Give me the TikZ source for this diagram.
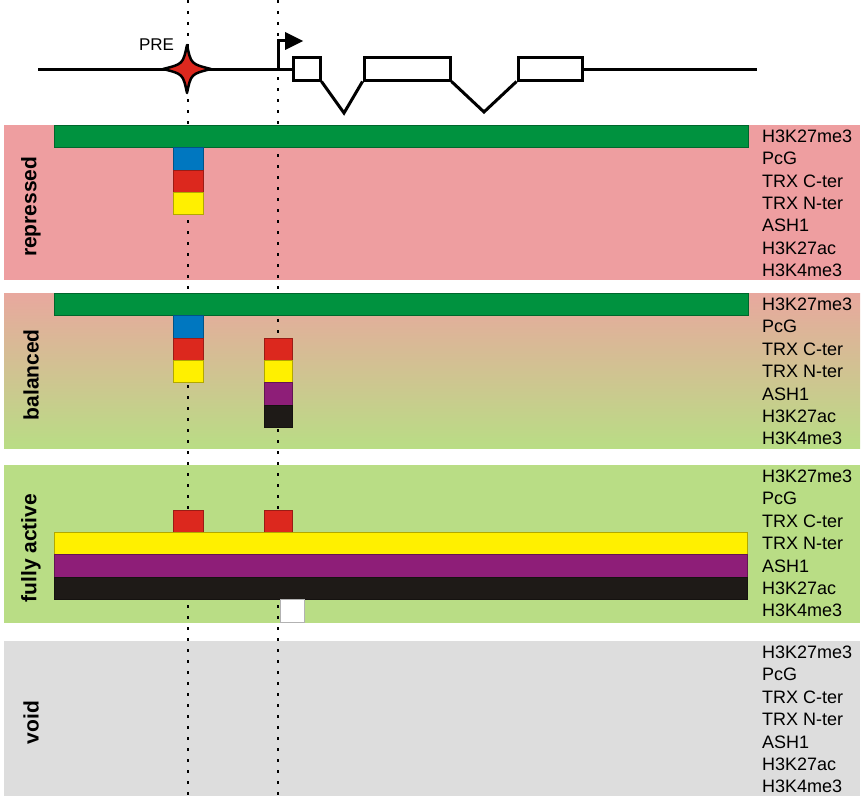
\documentclass[tikz,border=0pt]{standalone}
\usepackage{fontspec}
\setmainfont{Liberation Sans}
\usepackage{tikz}
\usetikzlibrary{shapes}
\usetikzlibrary{arrows}
\definecolor{panelPink}{RGB}{238,158,160}
\definecolor{panelMix}{RGB}{232,168,158}
\definecolor{panelGreen}{RGB}{185,221,133}
\definecolor{panelGray}{RGB}{221,221,221}
\definecolor{barGreen}{RGB}{0,146,63}
\definecolor{barBlue}{RGB}{0,119,192}
\definecolor{barRed}{RGB}{220,40,30}
\definecolor{barYellow}{RGB}{255,240,0}
\definecolor{barPurple}{RGB}{142,30,120}
\definecolor{barBlack}{RGB}{30,26,23}
\tikzset{
  panel/.style={anchor=north west,inner sep=0pt,minimum width=856pt,minimum height=155pt},
  state label/.style={rotate=90,font=\bfseries\fontsize{21}{24}\selectfont},
  mark label/.style={anchor=west,inner sep=0pt,font=\fontsize{18}{20}\selectfont},
  cell/.style={fill=#1,draw=#1!70!black,line width=0.5pt},
  guide line/.style={dash pattern=on 3pt off 8pt,line width=2pt},
  gene line/.style={line width=3pt},
  exon/.style={rectangle,draw,fill=white,line width=3pt,inner sep=0pt,minimum height=22pt}
}
\begin{document}
\begin{tikzpicture}[x=1pt,y=-1pt]
  \useasboundingbox (0,0) rectangle (864,800);
  % chromatin states
  \node [panel,fill=panelPink] (repressed) at (4,125) {};
  \node [panel,top color=panelMix,bottom color=panelGreen] (balanced) at (4,293) {};
  \node [panel,fill=panelGreen,minimum height=158pt] (active) at (4,465) {};
  \node [panel,fill=panelGray] (void) at (4,641) {};
  \foreach \st/\txt in {repressed/repressed,balanced/balanced,active/fully active,void/void}
    \node [state label] (\st-name) at ([xshift=27pt,yshift=-4pt]\st.west) {\txt};
  % marks
  \foreach \st/\ytop in {repressed/125,balanced/293,active/465,void/641}
    \foreach \m [count=\r from 0] in {H3K27me3,PcG,TRX C-ter,TRX N-ter,ASH1,H3K27ac,H3K4me3}
      \node [mark label] (\st-\r) at (762,{\ytop+11.2+22.4*\r}) {\m};
  % guides through PRE and promoter
  \draw [guide line] (188,0) -- (188,800);
  \draw [guide line] (278,0) -- (278,800);
  % bound factors
  \foreach \xa/\xb/\ytop/\r/\c in {54/748/125/0/barGreen, 173/203/125/1/barBlue,
      173/203/125/2/barRed, 173/203/125/3/barYellow,
      54/748/293/0/barGreen, 173/203/293/1/barBlue, 173/203/293/2/barRed,
      173/203/293/3/barYellow, 264/292/293/2/barRed, 264/292/293/3/barYellow,
      264/292/293/4/barPurple, 264/292/293/5/barBlack,
      173/203/465/2/barRed, 264/292/465/2/barRed, 54/747/465/3/barYellow,
      54/747/465/4/barPurple, 54/747/465/5/barBlack, 280/304/465/6/white}
    \filldraw [cell=\c] (\xa,{\ytop+22.4*\r}) rectangle (\xb,{\ytop+22.4*(\r+1)});
  % gene
  \node [exon,minimum width=27pt] (ex1) at (306.5,69) {};
  \node [exon,minimum width=86pt] (ex2) at (407,69) {};
  \node [exon,minimum width=64pt] (ex3) at (550,69) {};
  \coordinate (in1) at (344,113);
  \coordinate (in2) at (484,112);
  \coordinate (start) at (38,69);
  \coordinate (stop) at (757,69);
  \coordinate (tss) at (278,69);
  \coordinate (pre) at (187,69);
  \draw [gene line] (start) -- (ex1.west);
  \draw [gene line] (ex3.east) -- (stop);
  \draw [gene line] (ex1.south east) -- (in1) -- (ex2.south west);
  \draw [gene line] (ex2.south east) -- (in2) -- (ex3.south west);
  \draw [gene line] (tss) |- (287,41);
  \fill (285,32) -- (303,41) -- (285,50) -- cycle;
  \begin{scope}[shift={(pre)}]
    \filldraw [fill=barRed,line width=2.5pt,line join=round]
      (0,-24) .. controls (4,-5) .. (24,0) .. controls (4,5) .. (0,24)
      .. controls (-4,5) .. (-24,0) .. controls (-4,-5) .. (0,-24) -- cycle;
  \end{scope}
  \node [font=\fontsize{17}{20}\selectfont] (pre-label) at (156.5,45) {PRE};
\end{tikzpicture}
\end{document}
